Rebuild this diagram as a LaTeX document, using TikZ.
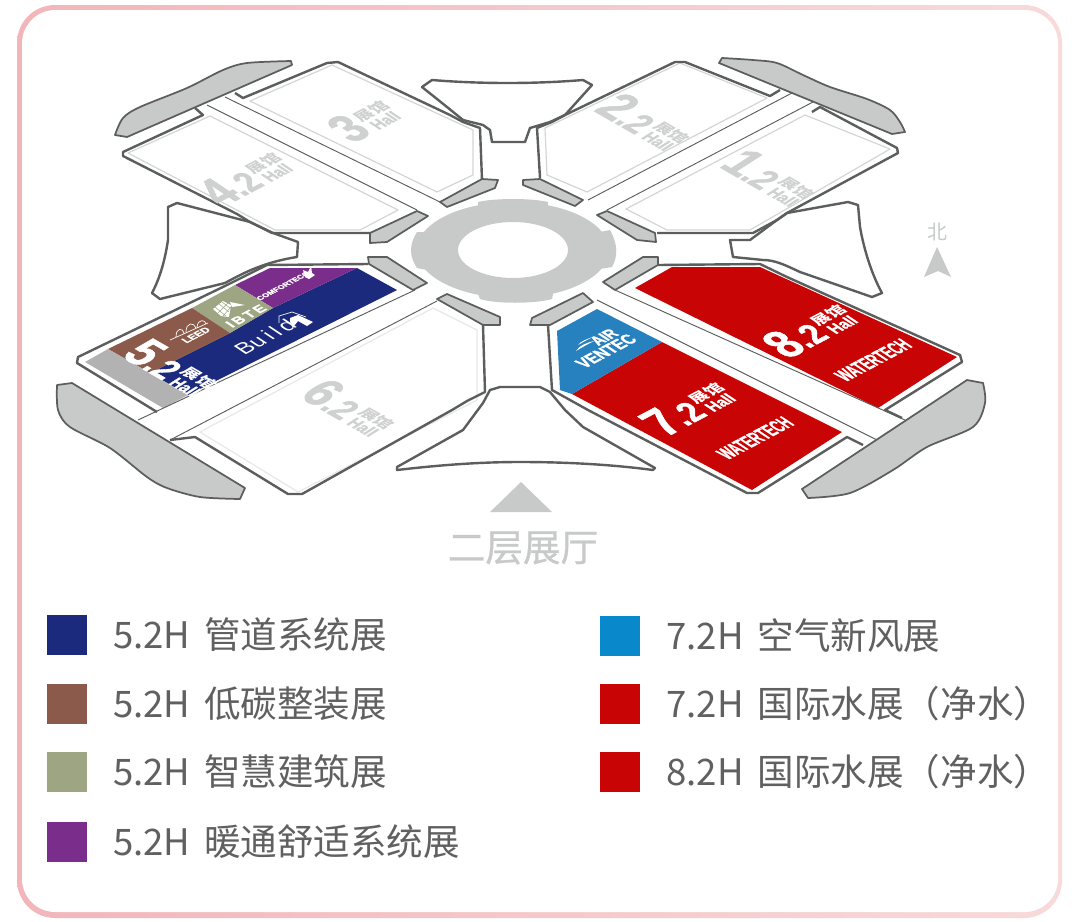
\documentclass[tikz,border=0pt]{standalone}
\usepackage{fontspec}
\usetikzlibrary{positioning}
\setmainfont{Noto Sans CJK SC}
\newfontfamily\hallfont{Liberation Sans}
\newfontfamily\heavyfont[BoldFeatures={FakeBold=1.2,FakeStretch=.76}]{Liberation Sans}
\newfontfamily\blackfont[BoldFeatures={FakeBold=1}]{Liberation Sans}
\newfontfamily\titlefont[FakeBold=.7]{Noto Sans CJK SC}
\newcommand{\keyfont}{\fontsize{27.4}{30}\selectfont\spaceskip=10.5pt\relax}
\definecolor{framepink}{HTML}{F2B6BA}
\definecolor{framepale}{HTML}{F8DADB}
\definecolor{wallgray}{HTML}{5C5E5E}
\definecolor{linegray}{HTML}{D4D5D5}
\definecolor{padgray}{HTML}{C8CACA}
\definecolor{markgray}{HTML}{CFD0D0}
\definecolor{textgray}{HTML}{606060}
\definecolor{zonenavy}{HTML}{1B2A7C}
\definecolor{zonebrown}{HTML}{8B5A4A}
\definecolor{zoneolive}{HTML}{9DA583}
\definecolor{zonepurple}{HTML}{7B2D8B}
\definecolor{zoneblue}{HTML}{2681BE}
\definecolor{keyblue}{HTML}{0A88CC}
\definecolor{zonered}{HTML}{C80404}
\tikzset{
  wall/.style={draw=wallgray,line width=1.8pt,line join=round},
  pad/.style={wall,fill=padgray,line width=1.3pt},
  aisle/.style={draw=wallgray,line width=.7pt},
  rim/.style={draw=linegray,line width=.9pt,line join=round},
  hallmark/.style={transform shape,inner sep=0pt},
  tiltup/.style={cm={.87,.46,-.78,.52,(0,0)}},
  tiltdown/.style={cm={.87,-.5,.78,.5,(0,0)}},
  swatch/.style={minimum width=30pt,minimum height=30pt,inner sep=0pt},
  keytext/.style={text=textgray,inner sep=0pt,font=\keyfont},
  logotext/.style={transform shape,inner sep=0pt,text=white},
  tallname/.style={logotext,xscale=.84,yscale=1.25,font=\heavyfont\bfseries\fontsize{14.5}{15}\selectfont},
}
\NewDocumentCommand{\hallnumber}{mmmmmmm}{%
\begin{scope}[shift={(#2,#3)},#4]%
\node[hallmark,text=#5] (#1) at (0,0) {\heavyfont\bfseries\fontsize{42}{42}\selectfont #6\fontsize{30}{30}\selectfont #7\hspace{2pt}\shortstack[c]{\normalfont\bfseries\fontsize{12.5}{12.5}\selectfont 展馆\\[-1pt]\heavyfont\bfseries\fontsize{14.5}{14.5}\selectfont Hall}};%
\end{scope}%
}
\begin{document}
\begin{tikzpicture}[x=0.75pt,y=-0.75pt]
        \useasboundingbox (0,0) rectangle (1080,921);
        \shade[left color=framepink,right color=framepale,rounded corners=28.5pt] (17,5) rectangle (1062,918);
        \fill[white,rounded corners=25pt] (22,10) rectangle (1058,912);

        % Centre ring.
        \fill[padgray,even odd rule] (513,250) ellipse [x radius=96,y radius=48] (513,250) ellipse [x radius=55,y radius=28];
        \fill[padgray] (478,206) -- (478,202) .. controls (495,198) and (531,198) .. (548,202) -- (548,206) -- cycle;
        \fill[padgray] (478,294) -- (480,299) .. controls (495,304) and (535,304) .. (552,299) -- (553,294) -- cycle;
        \fill[padgray] (427,232) -- (417,232) .. controls (409,245) and (409,256) .. (417,268) -- (427,270) -- cycle;
        \fill[padgray] (600,232) -- (610,230) .. controls (618,245) and (618,256) .. (612,267) -- (600,269) -- cycle;

        % Coloured zones.
        \fill[zonered] (635,288) -- (672,267) -- (760,267) -- (957,357) -- (878,408) -- cycle;
        \fill[zonered] (662,342) -- (842,432) -- (752,490) -- (572,394) -- cycle;
        \fill[zoneblue] (597,309) -- (662,342) -- (572,394) -- (560,390) -- (557,331) -- cycle;
        \fill[zonenavy] (357,268) -- (397,290) -- (188,395) -- (150,373) -- (230,333) -- (273,308) -- cycle;
        \fill[zonepurple] (235,285) -- (270,268) -- (357,268) -- (273,308) -- cycle;
        \fill[zoneolive] (192,308) -- (235,285) -- (273,308) -- (230,333) -- cycle;
        \fill[zonebrown] (108,349) -- (192,308) -- (230,333) -- (150,373) -- cycle;
        \fill[gray!60] (85,362) -- (108,349) -- (188,395) -- (163,408) -- cycle;

        % Hall rims.
        \draw[rim] (250,101) -- (332,65) -- (473,130) -- (473,175) -- (437,192) -- cycle;
        \draw[rim] (210,116) -- (128,153) -- (275,230) -- (360,230) -- (398,210) -- cycle;
        \draw[rim] (767,98) -- (680,63) -- (545,128) -- (547,175) -- (587,192) -- cycle;
        \draw[rim] (805,115) -- (890,149) -- (750,230) -- (667,230) -- (626,209) -- cycle;
        \draw[rim,draw=linegray!55] (200,432) -- (298,492) -- (477,400) -- (477,330) -- (433,308) -- cycle;

        % Aisles.
        \draw[aisle] (207,105) -- (417,210);
        \draw[aisle] (225,97) -- (440,202);
        \draw[aisle] (792,93) -- (588,200);
        \draw[aisle] (813,102) -- (607,210);
        \draw[aisle] (415,290) -- (138,420);
        \draw[aisle] (437,301) -- (170,440);
        \draw[aisle] (597,300) -- (877,440);
        \draw[aisle] (615,290) -- (905,420);

        % Hall walls.
        \draw[wall] (235,93) -- (243,98) -- (327,63) -- (338,62) -- (450,115) -- (463,122) -- (480,128) -- (482,180);
        \draw[wall] (195,108) -- (203,115) -- (123,152) -- (123,156) -- (237,214) -- (250,222) -- (272,233) -- (370,233);
        \draw[wall] (540,178) -- (537,128) -- (552,122) -- (565,115) -- (675,62) -- (685,62) -- (770,96) -- (780,90);
        \draw[wall] (812,112) -- (820,107) -- (897,148) -- (898,153) -- (787,213) -- (777,220) -- (753,233) -- (657,233);
        \draw[wall] (157,412) -- (77,363) -- (78,357) -- (227,285) -- (267,265) -- (368,264);
        \draw[wall] (170,440) -- (195,437) -- (288,494) -- (302,494) -- (452,410) -- (467,401) -- (485,392) -- (483,325);
        \draw[wall] (658,265) -- (760,264) -- (787,277) -- (960,355) -- (962,362) -- (885,410) -- (902,418);
        \draw[wall] (548,325) -- (552,390) -- (588,410) -- (747,493) -- (758,493) -- (847,437) -- (863,445);

        % Wedges between the halls.
        \draw[wall] (422,87) -- (432,80) .. controls (480,84) and (535,84) .. (583,80) -- (592,85) -- (565,115) -- (550,122) -- (530,128) -- (525,142) -- (492,142) -- (490,130) -- (483,125) -- (463,120) -- (447,107) -- cycle;
        \draw[wall] (848,202) -- (858,205) -- (860,227) .. controls (864,250) and (872,275) .. (882,293) -- (872,297) -- (800,272) .. controls (785,265) and (775,260) .. (763,260) -- (733,257) -- (730,240) -- (750,240) -- (777,220) -- (787,213) -- cycle;
        \draw[wall] (177,203) -- (168,207) -- (168,240) .. controls (165,260) and (160,278) .. (152,293) -- (160,299) -- (225,283) .. controls (245,272) and (265,262) .. (297,257) -- (298,242) -- (273,233) -- (250,222) -- cycle;
        \draw[wall] (500,387) -- (540,387) -- (550,392) -- (565,410) -- (583,427) -- (655,468) -- (653,470) .. controls (600,463) and (550,462) .. (520,462) .. controls (480,462) and (440,465) .. (397,470) -- (397,467) -- (463,430) -- (483,403) -- (490,390) -- cycle;

        % Small pads round the ring.
        \draw[pad] (370,233) -- (370,243) -- (387,242) -- (428,216) -- (417,211) -- cycle;
        \draw[pad] (440,202) -- (447,207) -- (495,188) -- (498,180) -- (482,179) -- cycle;
        \draw[pad] (523,180) -- (523,185) -- (575,206) -- (583,200) -- (540,179) -- cycle;
        \draw[pad] (597,215) -- (637,240) -- (656,242) -- (655,233) -- (607,211) -- cycle;
        \draw[pad] (369,264) -- (368,257) -- (387,257) -- (427,283) -- (413,290) -- cycle;
        \draw[pad] (437,299) -- (447,294) -- (500,317) -- (500,325) -- (483,325) -- cycle;
        \draw[pad] (603,282) -- (643,257) -- (658,257) -- (658,265) -- (615,290) -- cycle;
        \draw[pad] (530,325) -- (532,318) -- (583,293) -- (593,302) -- (550,325) -- cycle;

        % Curved pads at the outer corners.
        \draw[pad] (292,65) -- (127,137) -- (115,135) -- plot [smooth] coordinates {(115,135) (123,118) (140,107) (187,88) (223,70) (247,63) (291,61)} -- cycle;
        \draw[pad] (719,63) -- (892,134) -- (905,132) -- plot [smooth] coordinates {(905,132) (900,122) (890,110) (867,99) (830,87) (803,75) (777,63) (753,60) (722,58)} -- cycle;
        \draw[pad] (72,383) -- (245,488) -- (240,499) -- plot [smooth] coordinates {(240,499) (200,497) (167,488) (147,477) (110,448) (70,427) (58,410) (57,385)} -- cycle;
        \draw[pad] (802,489) -- (967,380) -- (983,383) -- plot [smooth] coordinates {(983,383) (985,403) (973,427) (927,447) (893,470) (850,493) (808,498)} -- cycle;

        % Hall numbers.
        \hallnumber{hallThree}{364}{120}{tiltup}{markgray}{3}{}
        \hallnumber{hallFourTwo}{245}{178}{tiltup}{markgray}{4}{.2}
        \hallnumber{hallTwoTwo}{645}{122}{tiltdown}{markgray}{2}{.2}
        \hallnumber{hallOneTwo}{770}{178}{tiltdown}{markgray}{1}{.2}
        \hallnumber{hallFiveTwo}{172}{368}{tiltdown}{white}{5}{.2}
        \hallnumber{hallSixTwo}{350}{408}{tiltdown}{markgray}{6}{.2}
        \hallnumber{hallSevenTwo}{688}{408}{tiltup}{white}{7}{.2}
        \hallnumber{hallEightTwo}{810}{330}{tiltup}{white}{8}{.2}

        % Fair names.
        \begin{scope}[shift={(755,438)},tiltup]
                \node[tallname] (waterA) at (0,0) {WATERTECH};
        \end{scope}
        \begin{scope}[shift={(873,360)},tiltup]
                \node[tallname] (waterB) at (0,0) {WATERTECH};
        \end{scope}
        \begin{scope}[shift={(604,337)},tiltup]
                \node[logotext,font=\heavyfont\bfseries\fontsize{14}{14}\selectfont] (airName) at (0,0) {AIR};
        \end{scope}
        \begin{scope}[shift={(606,351)},tiltup]
                \node[logotext,font=\heavyfont\bfseries\fontsize{15}{15}\selectfont] (ventName) at (0,0) {VENTEC};
        \end{scope}
        \fill[white] (576,351) .. controls (580,345) and (586,343) .. (594,341) .. controls (586,345) and (581,348) .. cycle;
        \fill[white] (578,345) .. controls (581,341) and (587,339) .. (593,337) .. controls (586,340) and (582,343) .. cycle;
        \begin{scope}[shift={(246,316)},tiltup]
                \node[logotext,font=\blackfont\bfseries\fontsize{11}{11}\selectfont] (ibteName) at (0,0) {I\,B\,T\,E};
        \end{scope}
        \begin{scope}[shift={(283,286)},tiltup]
                \node[logotext,font=\blackfont\bfseries\fontsize{6}{7}\selectfont] (comfortName) at (0,0) {COMFORTECO};
        \end{scope}
        \begin{scope}[shift={(196,335)},tiltup]
                \node[logotext,font=\blackfont\bfseries\fontsize{8}{8}\selectfont] (leedName) at (0,0) {LEED};
        \end{scope}
        \begin{scope}[shift={(265,337)},tiltup]
                \node[logotext,font=\hallfont\fontsize{17}{17}\selectfont] (buildName) at (0,0) {Bu\,i\,l\,d};
        \end{scope}

        % Small logo marks.
        \draw[white,line width=.5pt] (170,340) -- (208,323) (176,337) .. controls (176,327) and (183,328) .. (184,333) (186,332) .. controls (186,322) and (194,322) .. (196,328) (197,327) .. controls (198,318) and (206,320) .. (206,324);
        \fill[white] (213,309) -- (223,301) -- (231,305) -- (229,317) -- (221,316) -- cycle;
        \fill[white] (230,302) -- (245,305) -- (232,307) -- cycle;
        \draw[zoneolive,line width=.4pt] (215,307) -- (226,316) (219,304) -- (229,312) (222,302) -- (230,308) (218,313) -- (228,303) (223,316) -- (231,307);
        \fill[white] (305,277) -- (303,270) -- (308,272) -- (311,266) -- (312,273) -- (315,275) -- (309,279) -- cycle;
        \draw[white,line width=.5pt] (279,323) -- (279,316) -- (292,312) -- (306,317);
        \fill[white] (290,322) -- (290,318) -- (298,315) -- (313,322) -- (307,326) -- (298,321) -- (294,326) -- cycle;

        % Compass and level title.
        \node[text=padgray,inner sep=0pt,font=\fontsize{15}{15}\selectfont] (north) at (937,232) {北};
        \fill[padgray] (937,247) -- (951,277) -- (938,271) -- (924,277) -- cycle;
        \fill[padgray] (490,512) -- (521,482) -- (552,512) -- cycle;
        \node[text=padgray,inner sep=0pt,font=\titlefont\fontsize{28.2}{30}\selectfont] (level) at (523,548) {二层展厅};

        % Key.
        \foreach \keyname/\keyx/\keyy/\keycol/\keylabel in {
                navy/66.5/635/zonenavy/5.2H 管道系统展,
                brown/66.5/704/zonebrown/5.2H 低碳整装展,
                olive/66.5/772/zoneolive/5.2H 智慧建筑展,
                purple/66.5/842/zonepurple/5.2H 暖通舒适系统展,
                air/620/636/keyblue/7.2H 空气新风展,
                redA/620/704/zonered/7.2H 国际水展（净水）,
                redB/620/772/zonered/8.2H 国际水展（净水）} {
                \node[swatch,fill=\keycol] (key\keyname) at (\keyx,\keyy) {};
                \node[keytext,right=19.5pt of key\keyname] (label\keyname) {\keylabel};
        }
    \end{tikzpicture}
\end{document}
